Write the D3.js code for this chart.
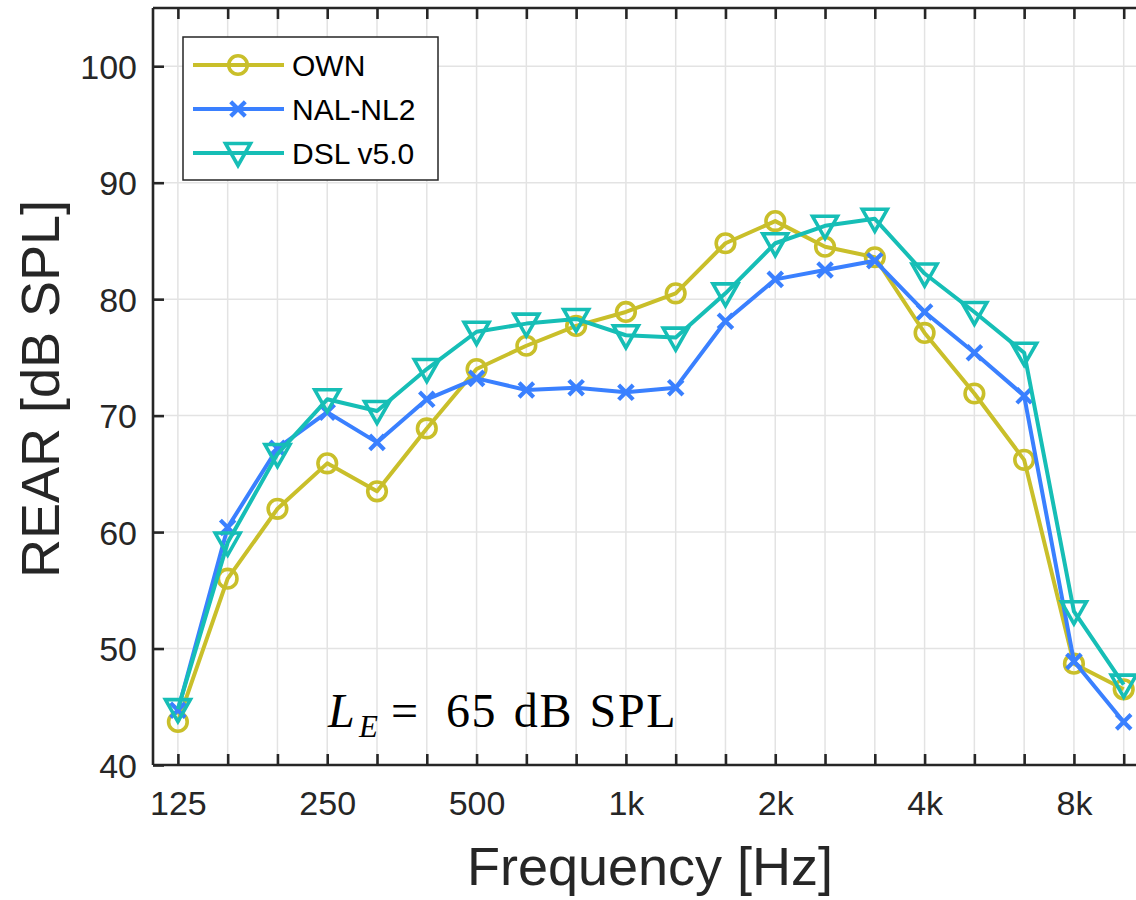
<!DOCTYPE html>
<html>
<head>
<meta charset="utf-8">
<script src="https://cdn.jsdelivr.net/npm/d3@7"></script>
<style>
  html, body { margin: 0; padding: 0; background: #fff; }
  svg { display: block; }
</style>
</head>
<body>
<svg id="chart" width="1136" height="900"></svg>
<script>
// ---- data ----
const bandLabels = ["125","160","200","250","315","400","500","630","800","1k","1.25k","1.6k","2k","2.5k","3.15k","4k","5k","6.3k","8k","10k"];
const shownTickLabels = ["125","250","500","1k","2k","4k","8k"];
const yTicks = [40, 50, 60, 70, 80, 90, 100];

const ownValues = [43.7, 56.0, 62.0, 65.9, 63.5, 68.9, 74.0, 76.0, 77.7, 78.9, 80.5, 84.8, 86.7, 84.5, 83.6, 77.1, 71.9, 66.2, 48.7, 46.5];
const nalValues = [44.7, 60.4, 67.2, 70.3, 67.7, 71.4, 73.2, 72.2, 72.4, 72.0, 72.4, 78.1, 81.7, 82.5, 83.3, 78.9, 75.4, 71.7, 48.9, 43.7];
const dslValues = [44.8, 59.1, 66.7, 71.4, 70.4, 74.0, 77.2, 77.9, 78.3, 76.9, 76.7, 80.5, 84.8, 86.3, 86.9, 82.2, 78.9, 75.4, 53.2, 46.9];

const seriesNames = ["OWN", "NAL-NL2", "DSL v5.0"];
const seriesColors = ["#c9bf2a", "#3a80ff", "#16beb6"];
const seriesMarkers = ["circle", "cross", "triangle"];

(function () {
// ---- layout ----
const svg = d3.select("#chart");
const pLeft = 153, pTop = 8, pBottom = 765;
const step = 49.78;
const pRight = pLeft + bandLabels.length * step;

const x = d3.scalePoint().domain(bandLabels).range([pLeft, pRight]).padding(0.5);
const y = d3.scaleLinear().domain([40, 105]).range([pBottom, pTop]);

const axisColor = "#262626";
const gridColor = "#e3e3e3";

const defs = svg.append("defs");
defs.append("clipPath").attr("id", "plotclip")
  .append("rect").attr("x", pLeft).attr("y", pTop).attr("width", pRight - pLeft).attr("height", pBottom - pTop);

// grid
const grid = svg.append("g");
grid.selectAll(".vg").data(bandLabels).join("line")
  .attr("x1", d => x(d)).attr("x2", d => x(d))
  .attr("y1", pTop).attr("y2", pBottom)
  .attr("stroke", gridColor).attr("stroke-width", 1.5);
grid.selectAll(".hg").data(yTicks.filter(v => v > 40)).join("line")
  .attr("x1", pLeft).attr("x2", pRight)
  .attr("y1", d => y(d)).attr("y2", d => y(d))
  .attr("stroke", gridColor).attr("stroke-width", 1.5);

// axes (D3 axes, inward ticks)
const tickLen = 11;
const xBottom = d3.axisBottom(x).tickSize(-tickLen).tickPadding(26)
  .tickFormat(d => shownTickLabels.includes(d) ? d : "");
const xTop = d3.axisTop(x).tickSize(-tickLen).tickFormat("");
const yLeft = d3.axisLeft(y).tickValues(yTicks).tickSize(-tickLen).tickPadding(16);

function styleAxis(g) {
  g.select(".domain").attr("stroke", axisColor).attr("stroke-width", 2.6);
  g.selectAll(".tick line").attr("stroke", axisColor).attr("stroke-width", 2.6);
  g.selectAll(".tick text").attr("fill", axisColor)
    .style("font-family", "'Liberation Sans', Arial, Helvetica, sans-serif")
    .style("font-size", "34px");
}

const gxb = svg.append("g").attr("transform", `translate(0,${pBottom})`).call(xBottom);
styleAxis(gxb);
gxb.select(".domain").attr("d", `M${pLeft},0H${pRight}`);
const gxt = svg.append("g").attr("transform", `translate(0,${pTop})`).call(xTop);
styleAxis(gxt);
gxt.select(".domain").attr("d", `M${pLeft},0H${pRight}`);
const gyl = svg.append("g").attr("transform", `translate(${pLeft},0)`).call(yLeft);
styleAxis(gyl);
gyl.select(".domain").attr("d", `M0,${pBottom}V${pTop}`);
gyl.selectAll(".tick text").attr("dy", "0.36em");

// axis titles
svg.append("text")
  .attr("x", 650).attr("y", 885)
  .attr("text-anchor", "middle")
  .attr("fill", axisColor)
  .style("font-family", "'Liberation Sans', Arial, Helvetica, sans-serif")
  .style("font-size", "54px")
  .text("Frequency [Hz]");

svg.append("text")
  .attr("transform", "translate(59,389) rotate(-90)")
  .attr("text-anchor", "middle")
  .attr("fill", axisColor)
  .style("font-family", "'Liberation Sans', Arial, Helvetica, sans-serif")
  .style("font-size", "54px")
  .text("REAR [dB SPL]");

// annotation
const ann = svg.append("text")
  .attr("y", 727)
  .attr("fill", "#000")
  .style("font-family", "'Liberation Serif', 'Times New Roman', serif")
  .style("font-size", "48px");
ann.append("tspan").attr("x", 328).style("font-style", "italic").text("L");
ann.append("tspan").attr("x", 359).attr("dy", 10).style("font-style", "italic").style("font-size", "31px").text("E");
ann.append("tspan").attr("x", 391).attr("dy", -10).text("=");
ann.append("tspan").attr("x", 446).style("letter-spacing", "1.6px").style("word-spacing", "3px").text("65 dB SPL");

// series
const seriesData = [ownValues, nalValues, dslValues];
const plot = svg.append("g").attr("clip-path", "url(#plotclip)");
const line = d3.line().x((d, i) => x(bandLabels[i])).y(d => y(d));

function drawMarker(g, type, color, cx, cy) {
  if (type === "circle") {
    g.append("circle").attr("cx", cx).attr("cy", cy).attr("r", 9.3)
      .attr("fill", "none").attr("stroke", color).attr("stroke-width", 3.6);
  } else if (type === "cross") {
    const h = 7.3;
    g.append("path").attr("d", `M${cx-h},${cy-h}L${cx+h},${cy+h}M${cx-h},${cy+h}L${cx+h},${cy-h}`)
      .attr("stroke", color).attr("stroke-width", 4.2).attr("fill", "none");
  } else {
    const w = 12.5, t = 9.5, b = 12.5;
    g.append("path").attr("d", `M${cx-w},${cy-t}L${cx+w},${cy-t}L${cx},${cy+b}Z`)
      .attr("stroke", color).attr("stroke-width", 3.6).attr("fill", "none").attr("stroke-linejoin", "miter");
  }
}

seriesData.forEach((vals, k) => {
  plot.append("path").datum(vals)
    .attr("d", line)
    .attr("fill", "none")
    .attr("stroke", seriesColors[k])
    .attr("stroke-width", 4)
    .attr("stroke-linejoin", "round");
  const mg = plot.append("g");
  vals.forEach((v, i) => drawMarker(mg, seriesMarkers[k], seriesColors[k], x(bandLabels[i]), y(v)));
});

// legend
const lg = svg.append("g");
lg.append("rect").attr("x", 183).attr("y", 37).attr("width", 255).attr("height", 143)
  .attr("fill", "#fff").attr("stroke", axisColor).attr("stroke-width", 1.5);
const rowsY = [65, 109, 153];
seriesNames.forEach((name, k) => {
  const ry = rowsY[k];
  lg.append("line").attr("x1", 193).attr("x2", 284).attr("y1", ry).attr("y2", ry)
    .attr("stroke", seriesColors[k]).attr("stroke-width", 4);
  drawMarker(lg, seriesMarkers[k], seriesColors[k], 238, ry);
  lg.append("text").attr("x", 292).attr("y", ry).attr("dy", "0.36em")
    .attr("fill", "#000")
    .style("font-family", "'Liberation Sans', Arial, Helvetica, sans-serif")
    .style("font-size", "30px")
    .text(name);
});
})();
</script>
</body>
</html>
